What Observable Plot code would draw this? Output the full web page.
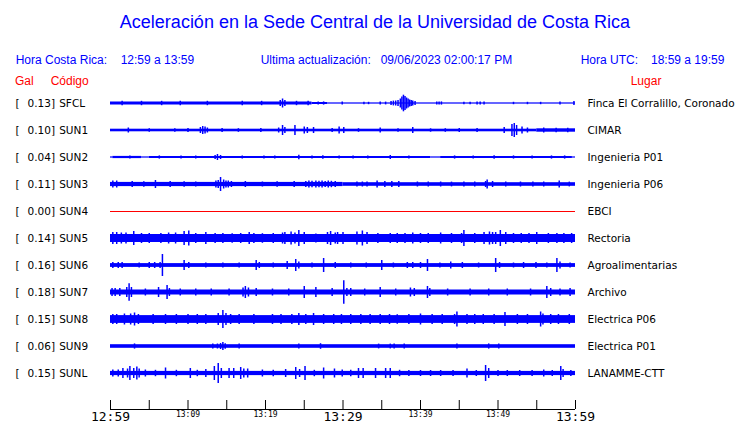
<!DOCTYPE html>
<html><head><meta charset="utf-8">
<script src="https://cdn.jsdelivr.net/npm/d3@7"></script>
<script src="https://cdn.jsdelivr.net/npm/@observablehq/plot@0.6"></script>
<style>body{margin:0;background:#fff} svg{display:block}</style>
</head><body><div id="chart"></div>
<script>
// ---- data ----
const codes = ["SFCL","SUN1","SUN2","SUN3","SUN4","SUN5","SUN6","SUN7","SUN8","SUN9","SUNL"];
const gal = [0.13,0.10,0.04,0.11,0.00,0.14,0.16,0.18,0.15,0.06,0.15];
const places = ["Finca El Corralillo, Coronado","CIMAR","Ingenieria P01","Ingenieria P06","EBCI","Rectoria","Agroalimentarias","Archivo","Electrica P06","Electrica P01","LANAMME-CTT"];
// time axis (minutes after 12:59)
const tickMinutes = [0,5,10,15,20,25,30,35,40,45,50,55,60];
const bigTickMinutes = [0,30,60];
const bigTickLabels = ["12:59","13:29","13:59"];
const smallTickMinutes = [10,20,40,50];
const smallTickLabels = ["13:09","13:19","13:39","13:49"];

// envelope segments [startMin, endMin, halfAmplitude] and spikes [min, halfAmplitude]
const segSFCL = [[0,26,1.5],[26,28,1.0],[28,60,0.6]];
const spkSFCL = [[1.5,2.2],[4,2.2],[6.6,2.2],[9,2.2],[12.5,2.2],[17,2.2],[19.5,2.2],[21.9,3],[22.2,4.5],[22.5,3],[24,2.2],[25.5,2.2],[26.8,1.6],[27.5,1.6],[29.9,1.4],[32.7,1.2],[33.3,1.2],[34.8,1.4],[35.5,1.4],[36.2,2],[36.5,2.4],[36.8,2.5],[37.1,3],[37.4,4.5],[37.6,6.5],[37.8,8.3],[38.0,7],[38.2,5.5],[38.4,4.5],[38.6,3.5],[38.8,3],[39.0,2.5],[39.3,2],[42.1,1.6],[42.4,1.6],[42.7,1.6],[45.6,1.3],[46.4,1.3],[47.3,1.5],[47.7,1.5],[48.2,1.5],[52,1.2],[53.8,1.2],[55.5,1.2],[58,1.4],[59.8,2]];
const segSUN1 = [[0,55,1.3],[55,60,1.7]];
const spkSUN1 = [[2.3,2.5],[5,1.8],[8.3,1.8],[10,2],[11.6,3],[11.9,4],[12.2,3.5],[12.5,2.5],[14.4,2],[16.5,1.8],[19.4,2],[21.7,2.5],[22.2,5],[22.5,3],[23.8,5],[25,3.5],[25.4,3],[26.2,3],[28.6,2],[29.5,3.5],[30.1,3],[32,1.8],[34.8,2.5],[37.1,1.8],[39,3],[41.3,1.7],[43.2,1.8],[45,2],[47.3,2],[50.8,3],[51.8,6],[52.1,7],[52.4,5],[53.1,3.5],[53.8,2.5],[55.9,2.5],[57.5,2.2],[59,2.2]];
const segSUN2 = [[0,0.3,0.6],[0.3,4,1.1],[4,5,0.6],[5,41.3,1.0],[41.3,42.6,0.6],[42.6,59.6,1.0],[59.6,60,0.6]];
const spkSUN2 = [[13.8,3],[13.5,2],[14.2,2],[24.3,2.3],[27.4,1.8],[36.1,2],[49.5,1.8],[2.5,1.6],[6.3,1.6],[9.1,1.6],[11,1.6],[17,1.6],[19.8,1.6],[21.2,1.6],[26,1.6],[29.5,1.6],[31.3,1.6],[33.2,1.6],[38.5,1.6],[44.4,1.6],[46.8,1.6],[52,1.6],[54.4,1.6],[56.9,1.6],[58.6,1.6]];
const segSUN3 = [[0,30,2.1],[30,60,1.8]];
const spkSUN3 = [[0.3,3.5],[0.8,3.5],[2.8,3],[4.3,2.8],[5.8,4],[7.7,3],[9.5,2.8],[11,2.5],[13.6,3.5],[13.9,4],[14.2,7],[14.6,4.5],[14.9,3.5],[15.2,3.5],[15.6,3],[17.4,3],[19.6,2.5],[21.5,2.8],[23.7,3],[25.2,3],[25.6,3.5],[26,3.2],[26.5,3.5],[26.9,3.2],[27.3,3.5],[27.7,3],[28.1,3.5],[28.5,3.2],[29,3],[31.8,2.5],[32.5,2.5],[33.1,2.5],[34.4,3.5],[35.4,3],[36.3,3],[37.2,3],[39.6,2.5],[41,2.4],[42.6,2.5],[44,2.4],[45.6,2.5],[47,2.4],[48.4,3],[48.6,4.5],[49.3,3],[51,2.4],[52.9,2.5],[54.5,2.4],[55.9,2.5],[57.9,3.5],[59.2,2.4]];
const segSUN4 = [[0,60,0]];
const spkSUN4 = [];
const segSUN5 = [[0,60,4.0]];
const spkSUN5 = [[0.3,6],[0.8,6],[1.4,5.5],[2,5.5],[3,7],[4,5],[5,5],[6.5,5],[7.5,5.5],[8.4,5.5],[9.5,7],[10.1,7.5],[11,5],[12.3,6],[13.5,5],[14.5,5],[15.7,4.8],[16.8,5],[17.9,6],[18.5,5],[19.6,4.8],[21,5],[22.2,5.5],[22.5,6],[23.3,6.5],[23.8,5.5],[24.3,8],[25,6],[26.5,4.5],[28,6],[28.4,7],[29,5.5],[29.3,6],[30,6],[31.8,6.5],[32.5,7.5],[33.1,6],[34.5,5],[36.1,5],[37,5],[38,5],[39,5.5],[40,5],[41,5],[42.6,5.5],[44,5],[45.3,5],[45.6,8],[47,5],[48.2,6],[48.9,6.5],[49.3,6],[49.7,6],[50.3,8],[51,6],[52,5],[53,5],[54,5],[55,6],[56.5,5],[57.6,5],[58.5,5],[59.5,5]];
const segSUN6 = [[0,60,1.9]];
const spkSUN6 = [[0.3,3],[1,3],[1.5,3],[3.7,2.5],[5,3],[5.7,3],[6.4,3],[6.7,11],[9.5,5],[10.1,3],[12.3,2.5],[14.5,2.5],[16.6,2.5],[18.8,5],[19.2,3],[21,2.5],[22.8,4],[23.9,6],[24.3,3.5],[26,2.5],[27.5,7],[29,3],[31,2.5],[33,2.5],[35,5],[36.5,2.5],[38.3,3],[39,3],[40,3],[40.9,6],[42.5,2.5],[43.9,3.5],[45.4,3],[47.5,2.5],[49.7,7],[50.2,3],[52,2.5],[53.3,3],[54.9,3],[56.3,2.5],[57.6,7],[58,3.5],[59.3,2.5]];
const segSUN7 = [[0,60,2.5]];
const spkSUN7 = [[0.2,4],[0.6,4],[1.2,4],[2.1,5],[2.4,8.7],[2.7,5],[4.5,3.5],[6.2,5],[7.3,7],[7.6,4],[9,3.5],[11,3.5],[13,3.5],[15.3,3.5],[17.1,4.5],[17.4,6],[17.8,4.5],[18.8,4],[20.9,3.5],[23,3.5],[25,6],[26.5,5],[28.6,4],[30.1,11.7],[30.5,4],[31,4],[32.8,3.5],[34.8,5],[36.8,3.5],[38.7,4.5],[39.2,4],[40.9,6],[41.2,4],[43.5,3.5],[46.4,3.5],[48.8,3.5],[51.2,3.5],[54.2,3.5],[56.3,6],[56.8,4],[58,3.5],[59.3,4]];
const segSUN8 = [[0,60,3.9]];
const spkSUN8 = [[0.3,5],[0.8,5],[1.8,5.5],[2.6,5.5],[3.1,6.5],[3.6,5],[5.5,5],[7.1,5],[8.5,5],[10,5],[11.2,5],[12.3,5],[13.9,6],[14.5,9],[14.9,6],[15.5,5],[16.6,5],[18.5,5],[20.9,5],[22,5],[23.4,5],[24.3,6],[25.2,5],[26.2,6],[27.5,5],[28.8,5],[29.8,5],[31,5],[32.3,5],[33.5,5],[34.8,5],[36,5],[37,4.8],[38.5,5],[40,5.5],[41.5,5],[42.8,5],[44.4,5],[44.7,7.5],[46,5],[47,5],[48.1,5],[49.5,5],[50.9,7],[52.5,5],[53.8,5],[55.5,7.5],[55.8,5.5],[56.8,5],[57.8,5],[59.2,5]];
const segSUN9 = [[0,60,1.8]];
const spkSUN9 = [[3.1,2.6],[13.2,2.5],[13.8,2.5],[14.2,3],[14.5,4],[14.8,2.8],[16.6,2.6],[24.3,2.4],[27.1,2.8],[34.6,2.4],[36.1,2.4],[36.6,2.4],[37.9,2.4],[44.7,2.4],[48.8,2.6],[50.1,2.4]];
const segSUNL = [[0,60,2.1]];
const spkSUNL = [[0.3,3.5],[1,3.5],[1.6,5],[2.2,4.5],[2.5,7],[3,5],[3.4,6.5],[3.7,4.5],[4.5,3.5],[5.8,3.2],[7.1,5.5],[8.5,3.2],[10.3,5],[11.2,3.2],[12.3,4],[13.4,7],[13.9,10],[14.3,5],[15.3,5],[15.9,5],[16.8,6],[17.2,4.5],[17.7,4.5],[19.6,3.5],[21,3.2],[22.6,4],[23.9,6],[24.4,4],[25.1,7],[26.3,3.2],[27.5,5.5],[28.9,4.5],[29.9,3.5],[31,3.2],[32,5],[32.6,5],[34.2,5],[35.5,5],[36.1,5],[37.3,3.2],[38.5,3],[40,3],[41.3,3],[42.6,3],[44.2,3],[46,4.5],[47.2,3],[48.4,8],[48.8,5],[50,3],[51.2,3],[52.8,3],[54.4,3],[55.9,3.5],[57,3],[58.1,7],[58.4,4],[59.4,3]];

// ---- build tables ----
const allSegs = [segSFCL,segSUN1,segSUN2,segSUN3,segSUN4,segSUN5,segSUN6,segSUN7,segSUN8,segSUN9,segSUNL];
const allSpks = [spkSFCL,spkSUN1,spkSUN2,spkSUN3,spkSUN4,spkSUN5,spkSUN6,spkSUN7,spkSUN8,spkSUN9,spkSUNL];
const ROW = 27;       // row spacing in amplitude units
const yMax = 306;     // bottom of the frame in the same units
const segRows = [], spkRows = [];
allSegs.forEach((s, i) => s.forEach(([t0, t1, a]) => segRows.push({i, t0, t1, a})));
allSpks.forEach((s, i) => s.forEach(([t, a]) => spkRows.push({i, t, a})));
const rowY = i => i * ROW;
const isFlat = d => codes[d.i] === "SUN4";
const blue = "#0000ff";

const chart = Plot.plot({
  width: 740, height: 423,
  marginLeft: 110, marginRight: 165, marginTop: 103, marginBottom: 14,
  x: {domain: [0, 60], axis: null},
  y: {domain: [0, yMax], reverse: true, axis: null},
  style: {background: "white", fontFamily: "DejaVu Sans", color: "black"},
  marks: [
    Plot.rect(segRows.filter(d => !isFlat(d)), {x1: "t0", x2: "t1", y1: d => rowY(d.i) - d.a, y2: d => rowY(d.i) + d.a, fill: blue}),
    Plot.ruleY(segRows.filter(isFlat), {x1: "t0", x2: "t1", y: d => rowY(d.i), stroke: "red", strokeWidth: 1.2}),
    Plot.ruleX(spkRows, {x: "t", y1: d => rowY(d.i) - d.a, y2: d => rowY(d.i) + d.a, stroke: blue, strokeWidth: 1.5}),
    Plot.ruleY([yMax], {stroke: "black"}),
    Plot.ruleX(tickMinutes, {x: d => d, insetTop: 297, stroke: "black"}),
    Plot.text(bigTickMinutes, {x: d => d, text: (d, i) => bigTickLabels[i], frameAnchor: "bottom", lineAnchor: "middle", dy: 7.8, fontSize: 13, fontFamily: "DejaVu Sans Mono", fill: "black"}),
    Plot.text(smallTickMinutes, {x: d => d, text: (d, i) => smallTickLabels[i], frameAnchor: "bottom", lineAnchor: "middle", dy: 5.4, fontSize: 8, fontFamily: "DejaVu Sans Mono", fill: "black"}),
    Plot.text(codes, {y: (d, i) => rowY(i), frameAnchor: "left", dx: -95, dy: 0.4, text: () => "[", textAnchor: "start", fontSize: 10.5, fill: "black"}),
    Plot.text(codes, {y: (d, i) => rowY(i), frameAnchor: "left", dx: -83, dy: 0.4, text: (d, i) => gal[i].toFixed(2) + "]", textAnchor: "start", fontSize: 10.5, fill: "black"}),
    Plot.text(codes, {y: (d, i) => rowY(i), frameAnchor: "left", dx: -51.3, dy: 0.4, text: d => d, textAnchor: "start", fontSize: 10.5, fill: "black"}),
    Plot.text(places, {y: (d, i) => rowY(i), frameAnchor: "right", dx: 12, dy: 0.4, text: d => d, textAnchor: "start", fontSize: 10.5, fill: "black"})
  ]
});

// header texts
const svg = d3.select(chart);
const head = (x, y, txt, size, color, anchor = "start") =>
  svg.append("text").attr("x", x).attr("y", y).attr("text-anchor", anchor)
    .attr("font-family", "'Liberation Sans', Arial, sans-serif").attr("font-size", size)
    .attr("fill", color).text(txt);
head(375, 28.3, "Aceleración en la Sede Central de la Universidad de Costa Rica", 18, blue, "middle");
head(15.7, 64.3, "Hora Costa Rica:", 12, blue);
head(120.7, 64.3, "12:59 a 13:59", 12, blue);
head(260.7, 64.3, "Ultima actualización:", 12, blue);
head(380.7, 64.3, "09/06/2023 02:00:17 PM", 12, blue);
head(580.7, 64.3, "Hora UTC:", 12, blue);
head(651, 64.3, "18:59 a 19:59", 12, blue);
head(15, 85, "Gal", 12, "red");
head(50.7, 85, "Código", 12, "red");
head(630.7, 85, "Lugar", 12, "red");

document.getElementById("chart").append(chart);
</script>
</body></html>
